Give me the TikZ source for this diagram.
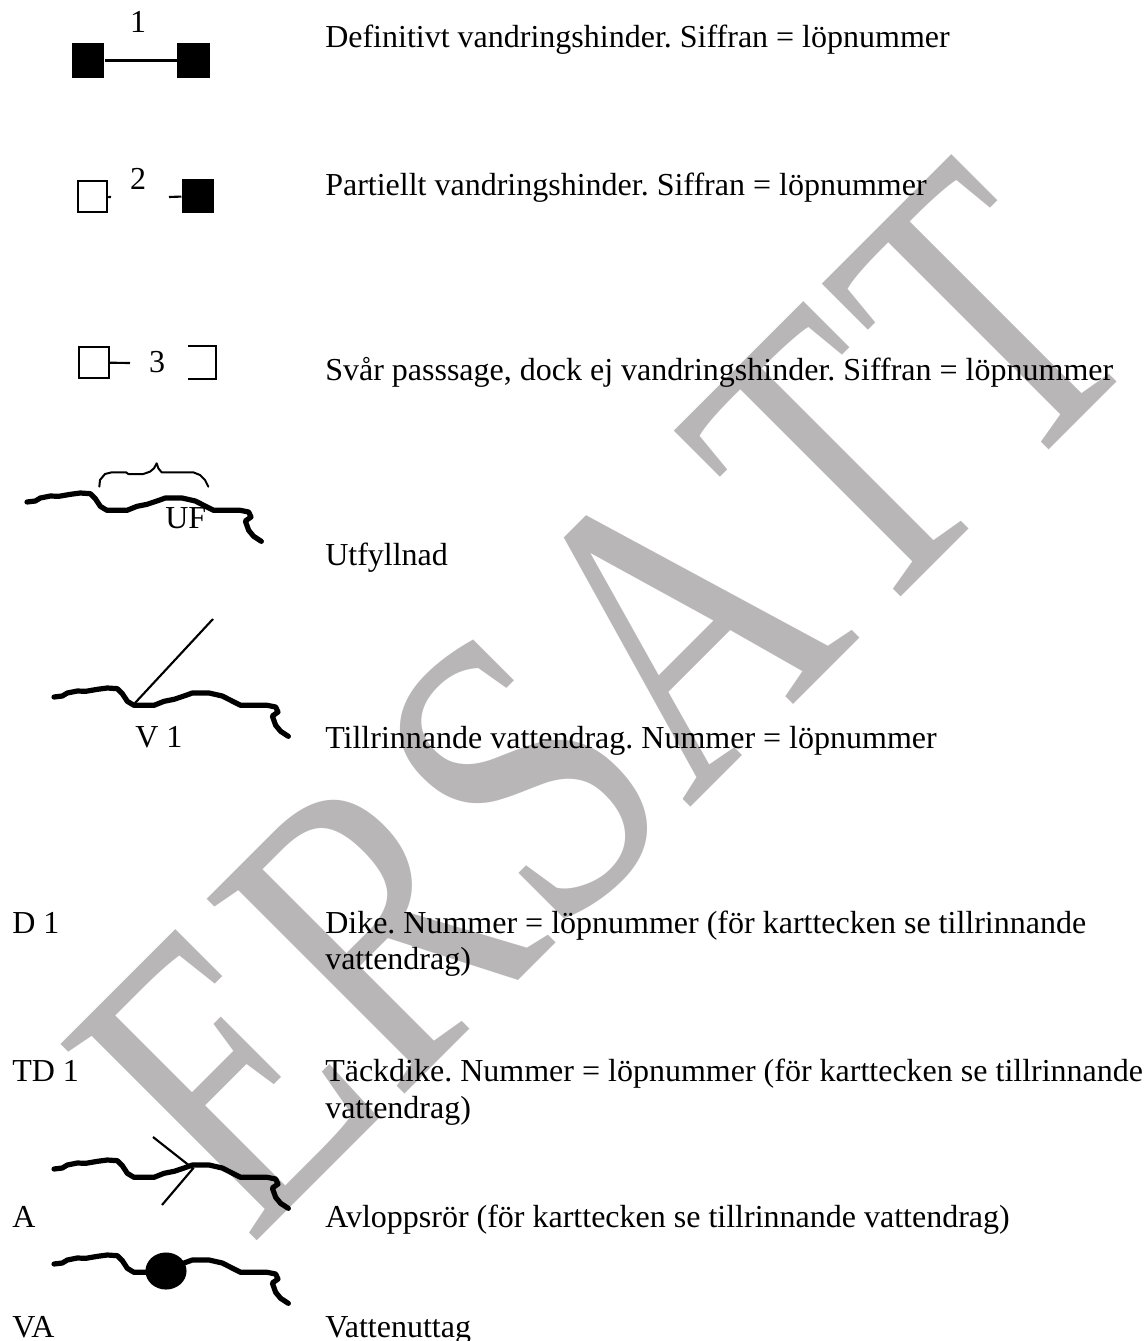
\documentclass[tikz,border=0pt]{standalone}
\usepackage{graphicx}
\usepackage{fontspec}
\usetikzlibrary{shapes.geometric}
\setmainfont{Liberation Serif}
\newfontfamily\wmfont[Kerning=Off]{Liberation Serif}
\definecolor{wm}{HTML}{B8B6B7}
\newcommand{\wmletter}[4]{\makebox[#3][#4]{\scalebox{#1}[1]{#2}}}
\tikzset{x=0.75pt,y=-0.75pt,
 lbl/.style={anchor=base west,inner sep=0pt,font=\fontsize{24pt}{28pt}\selectfont\frenchspacing},
 sym/.style={anchor=base,inner sep=0pt,font=\fontsize{24pt}{28pt}\selectfont},
 fbox/.style={fill=black,draw=none,inner sep=0pt,minimum width=24.4pt,minimum height=26pt},
 obox/.style={draw=black,line width=1.6pt,fill=white,inner sep=0pt,minimum width=22pt,minimum height=23.3pt},
 stroke/.style={draw=black,line width=1.6pt},
 river/.style={draw=black,line width=3.9pt,line join=round,line cap=round},
 bracecurve/.style={draw=black,line width=1.5pt,line join=round,line cap=round}}
\newcommand{\riverpath}[2]{%
 \draw[river,shift={(#1,#2)},x=0.25pt,y=-0.25pt] (0,0) -- (25,-3) -- (40,-12) -- (70,-18) -- (95,-17) -- (130,-23) -- (160,-27) -- (190,-25) -- (205,-10) -- (220,13) -- (240,25) -- (300,25) -- (330,13) -- (360,7) -- (390,-3) -- (415,-12) -- (465,-12) -- (505,-3) -- (540,15) -- (560,25) -- (640,25) -- (665,30) -- (672,45) -- (655,57) -- (665,85) -- (680,103) -- (703,118);}
\begin{document}
\begin{tikzpicture}
\useasboundingbox (0,0) rectangle (1146,1341);
\fill[white] (0,0) rectangle (1146,1341);
\node[rotate=45,anchor=base west,inner sep=0pt,text=wm,font=\fontsize{318pt}{318pt}\selectfont\wmfont] (wmark) at (250,1248) {\wmletter{0.78}{E}{155pt}{l}\wmletter{0.8}{R}{169pt}{c}\wmletter{0.8}{S}{141pt}{c}\wmletter{0.8}{A}{184pt}{c}\wmletter{0.75}{T}{156pt}{c}\wmletter{0.75}{T}{156pt}{c}};
% row 1
\node[fbox] (a1) at (88,60.5) {};
\node[fbox] (a2) at (193.5,60.5) {};
\draw[stroke] (a1) -- (a2);
\node[sym] (n1) at (138,33) {1};
\node[lbl] (t1) at (325,48) {Definitivt vandringshinder. Siffran = löpnummer};
% row 2
\node[obox] (b1) at (92.5,196.5) {};
\node[fbox] (b2) at (198,196) {};
\coordinate (b1e) at (111,197);
\coordinate (b2e) at (169,197);
\draw[stroke] (b1) -- (b1e);
\draw[stroke] (b2) -- (b2e);
\node[sym] (n2) at (138,190) {2};
\node[lbl] (t2) at (325,196) {Partiellt vandringshinder. Siffran = löpnummer};
% row 3
\node[obox] (c1) at (94,362.5) {};
\coordinate (c1e) at (130,363);
\draw[stroke] (c1) -- (c1e);
\node[sym] (n3) at (157,372) {3};
\coordinate (c2a) at (188,346);
\coordinate (c2b) at (216,346);
\coordinate (c2c) at (216,379);
\coordinate (c2d) at (188,379);
\draw[stroke,line join=miter] (c2a) -- (c2b) -- (c2c) -- (c2d);
\node[lbl] (t3) at (325,380) {Svår passsage, dock ej vandringshinder. Siffran = löpnummer};
% UF
\riverpath{27}{502}
\draw[bracecurve,shift={(0,430)},x=0.25pt,y=-0.25pt] (298,170) -- (300,150) -- (315,132) -- (335,127) -- (378,127) -- (385,132) -- (430,132) -- (450,125) -- (462,115) -- (470,100) -- (475,115) -- (485,127) -- (580,127) -- (600,135) -- (615,150) -- (625,170);
\node[lbl] (uf) at (165,528) {UF};
\node[lbl] (t4) at (325,565) {Utfyllnad};
% V 1
\riverpath{54}{697}
\coordinate (v1a) at (135,703);
\coordinate (v1b) at (213,619);
\draw[stroke] (v1a) -- (v1b);
\node[lbl] (v1) at (135,747) {V 1};
\node[lbl] (t5) at (325,748) {Tillrinnande vattendrag. Nummer = löpnummer};
% D 1
\node[lbl] (d1) at (12,933) {D 1};
\node[lbl] (t6a) at (325,933) {Dike. Nummer = löpnummer (för karttecken se tillrinnande};
\node[lbl] (t6b) at (325,969) {vattendrag)};
% TD 1
\node[lbl] (td1) at (12,1081) {TD 1};
\node[lbl] (t7a) at (325,1081) {Täckdike. Nummer = löpnummer (för karttecken se tillrinnande};
\node[lbl] (t7b) at (325,1118) {vattendrag)};
% A
\riverpath{54}{1169}
\coordinate (ap) at (193,1168.5);
\coordinate (aa) at (153,1137);
\coordinate (ab) at (162,1205);
\draw[stroke] (aa) -- (ap) -- (ab);
\node[lbl] (la) at (12,1227) {A};
\node[lbl] (t8) at (325,1227) {Avloppsrör (för karttecken se tillrinnande vattendrag)};
% VA
\riverpath{54}{1264}
\node[ellipse,fill=black,inner sep=0pt,minimum width=30.8pt,minimum height=27.8pt] (el) at (166,1271) {};
\node[lbl] (lva) at (12,1337) {VA};
\node[lbl] (t9) at (325,1337) {Vattenuttag};
\end{tikzpicture}
\end{document}
